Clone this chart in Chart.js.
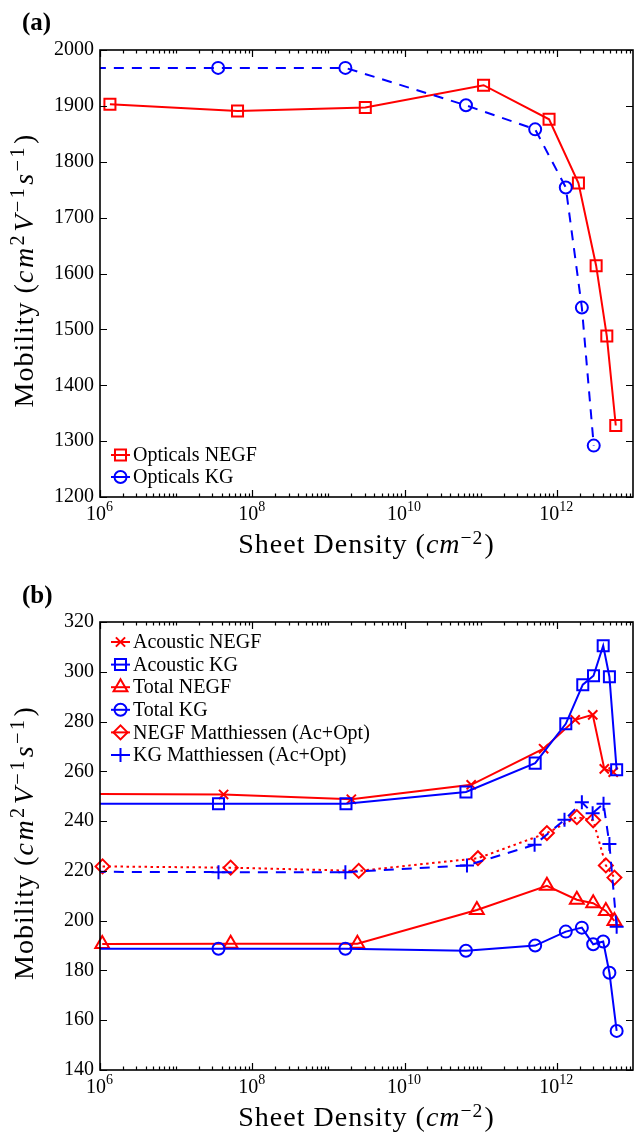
<!DOCTYPE html>
<html>
<head>
<meta charset="utf-8">
<script src="https://cdn.jsdelivr.net/npm/chart.js@4.4.1/dist/chart.umd.min.js"></script>
<style>
html, body { margin: 0; padding: 0; background: #fff; }
#wrap { position: relative; width: 635px; height: 1134px; }
.panel { position: absolute; left: 0; width: 635px; height: 567px; }
</style>
</head>
<body>
<div id="wrap">
  <div class="panel" style="top:0"><canvas id="chartA" width="635" height="567"></canvas></div>
  <div class="panel" style="top:567px"><canvas id="chartB" width="635" height="567"></canvas></div>
</div>
<script>
const FONT = '"Liberation Serif", "DejaVu Serif", serif';
const RED = '#ff0000';
const BLUE = '#0000ff';

// x axis: decades that carry a label (10^n)
const xTickExp = [6, 8, 10, 12];

// (a) optical phonon limited mobility
const optNegfX = [1.35e6, 6.4e7, 3.05e9, 1.09e11, 7.9e11, 1.92e12, 3.28e12, 4.53e12, 5.94e12];
const optNegfY = [1903, 1891, 1897, 1937, 1876, 1762, 1614, 1488, 1328];
const optKgX = [1e5, 3.56e7, 1.67e9, 6.4e10, 5.19e11, 1.31e12, 2.13e12, 3.05e12];
const optKgY = [1968, 1968, 1968, 1901, 1858, 1754, 1539, 1292];

// (b) acoustic / total / Matthiessen
const acNegfX = [1e5, 4.2e7, 2.0e9, 7.5e10, 6.7e11, 1.74e12, 2.96e12, 4.2e12, 5.5e12];
const acNegfY = [251.0, 250.7, 248.8, 254.6, 269.1, 280.7, 282.7, 261.0, 259.7];
const acKgX = [1e5, 3.6e7, 1.7e9, 6.4e10, 5.19e11, 1.31e12, 2.19e12, 3.03e12, 4.06e12, 4.9e12, 6.1e12];
const acKgY = [247.0, 247.0, 247.0, 251.7, 263.3, 279.1, 294.8, 298.4, 310.5, 298.0, 260.6];
const totNegfX = [1.07e6, 5.2e7, 2.4e9, 8.9e10, 7.4e11, 1.83e12, 3.0e12, 4.4e12, 5.7e12];
const totNegfY = [190.6, 190.7, 190.7, 204.3, 214.0, 208.4, 207.0, 203.9, 199.9];
const totKgX = [1e5, 3.6e7, 1.67e9, 6.4e10, 5.19e11, 1.31e12, 2.13e12, 3.0e12, 4.06e12, 4.9e12, 6.1e12];
const totKgY = [188.7, 188.7, 188.7, 187.9, 190.0, 195.6, 197.2, 190.5, 191.6, 179.1, 155.7];
const negfMatX = [1.08e6, 5.2e7, 2.5e9, 9.2e10, 7.4e11, 1.83e12, 3.0e12, 4.4e12, 5.7e12];
const negfMatY = [221.8, 221.3, 220.0, 225.1, 235.2, 241.6, 240.3, 222.2, 217.3];
const kgMatX = [1e5, 3.6e7, 1.67e9, 6.6e10, 5.1e11, 1.26e12, 2.13e12, 2.95e12, 4.1e12, 4.9e12, 6.1e12];
const kgMatY = [219.7, 219.5, 219.5, 222.2, 230.5, 240.5, 247.6, 243.2, 247.0, 230.8, 197.6];

const DASH = [10, 8];
const DOT = [2.5, 3.5];

function pts(xs, ys) {
    return xs.map((x, i) => ({ x: x, y: ys[i] }));
}

function series(label, xs, ys, color, style, radius, dash, order) {
    const ds = {
        label: label,
        data: pts(xs, ys),
        showLine: true,
        tension: 0,
        borderColor: color,
        backgroundColor: 'rgba(0,0,0,0)',
        borderWidth: 2,
        borderDash: dash,
        pointStyle: style,
        pointRadius: radius,
        pointBorderWidth: 2,
        pointBorderColor: color,
        pointBackgroundColor: 'rgba(0,0,0,0)',
        order: order
    };
    // series that start inside the axes keep their edge markers whole
    if (xs[0] >= 1e6) ds.clip = 12;
    return ds;
}

// text with italic and superscript pieces: [text, kind] kind '' | 'i' | 's'
function richFont(kind, size, supScale) {
    if (kind === 's') return (size * supScale) + 'px ' + FONT;
    if (kind === 'i') return 'italic ' + size + 'px ' + FONT;
    return size + 'px ' + FONT;
}

function drawRich(ctx, parts, x, y, size, supScale, supRise, spacing, mathSpacing) {
    const setFor = p => {
        ctx.font = richFont(p[1], size, supScale);
        ctx.letterSpacing = (p[1] === '' ? spacing : mathSpacing) + 'px';
    };
    let total = 0;
    parts.forEach(p => {
        setFor(p);
        total += ctx.measureText(p[0]).width + (p[1] === 's' ? 1 : 0);
    });
    let cx = x - total / 2;
    ctx.textAlign = 'left';
    ctx.textBaseline = 'alphabetic';
    parts.forEach(p => {
        setFor(p);
        const dy = p[1] === 's' ? -size * supRise : 0;
        ctx.fillText(p[0], cx, y + dy);
        cx += ctx.measureText(p[0]).width + (p[1] === 's' ? 1 : 0);
    });
    ctx.letterSpacing = '0px';
}

const yTitle = [['Mobility (', ''], ['cm', 'i'], ['2', 's'], ['V', 'i'], ['\u22121', 's'], ['s', 'i'], ['\u22121', 's'], [')', '']];
const xTitle = [['Sheet Density (', ''], ['cm', 'i'], ['\u22122', 's'], [')', '']];

const framePlugin = {
    id: 'frame',
    afterDatasetsDraw(chart, args, opts) {
        const ctx = chart.ctx;
        const a = chart.chartArea;
        const xs = chart.scales.x;
        const ys = chart.scales.y;
        ctx.save();
        ctx.strokeStyle = '#000';
        ctx.fillStyle = '#000';

        // inward ticks, log minor ticks on x
        ctx.lineWidth = 1.2;
        ctx.beginPath();
        for (let k = 6; k <= 12; k++) {
            for (let m = 1; m <= 9; m++) {
                const v = m * Math.pow(10, k);
                const major = m === 1 && xTickExp.indexOf(k) >= 0;
                const len = major ? 7 : 3.5;
                const px = Math.round(xs.getPixelForValue(v)) + 0.5;
                ctx.moveTo(px, a.bottom); ctx.lineTo(px, a.bottom - len);
                ctx.moveTo(px, a.top); ctx.lineTo(px, a.top + len);
            }
        }
        ys.ticks.forEach(t => {
            const py = Math.round(ys.getPixelForValue(t.value)) + 0.5;
            ctx.moveTo(a.left, py); ctx.lineTo(a.left + 7, py);
            ctx.moveTo(a.right, py); ctx.lineTo(a.right - 7, py);
        });
        ctx.stroke();

        ctx.lineWidth = 1.6;
        ctx.strokeRect(a.left, a.top, a.right - a.left, a.bottom - a.top);

        // x tick labels 10^n
        xTickExp.forEach(e => {
            const px = xs.getPixelForValue(Math.pow(10, e));
            drawRich(ctx, [['10', ''], [String(e), 's']], px, a.bottom + 23, 20, 0.7, 0.45, 0, 0);
        });

        // axis titles
        drawRich(ctx, xTitle, (a.left + a.right) / 2, a.bottom + 56, 28, 0.7, 0.33, 1, 1);
        ctx.save();
        ctx.translate(33, (a.top + a.bottom) / 2 + opts.yTitleShift);
        ctx.rotate(-Math.PI / 2);
        drawRich(ctx, yTitle, 0, 0, 28, 0.72, 0.33, 1, 2.5);
        ctx.restore();

        // panel tag
        ctx.font = 'bold 25px ' + FONT;
        ctx.textAlign = 'left';
        ctx.textBaseline = 'alphabetic';
        ctx.fillText(opts.tag, 22, opts.tagY);

        // legend: short line + hollow marker, then label
        chart.data.datasets.forEach((ds, i) => {
            const y = opts.legendY + i * opts.legendGap;
            ctx.save();
            ctx.strokeStyle = ds.borderColor;
            ctx.fillStyle = 'rgba(0,0,0,0)';
            ctx.lineWidth = 2;
            ctx.setLineDash([]);
            ctx.beginPath();
            ctx.moveTo(111, y); ctx.lineTo(130, y);
            ctx.stroke();
            Chart.helpers.drawPoint(ctx, {
                pointStyle: ds.pointStyle,
                radius: ds.pointRadius,
                borderWidth: 2,
                rotation: 0
            }, 120.5, y);
            ctx.restore();
            ctx.fillStyle = '#000';
            ctx.font = '20px ' + FONT;
            ctx.textAlign = 'left';
            ctx.textBaseline = 'middle';
            ctx.fillText(ds.label, 133, y + 1);
        });
        ctx.restore();
    }
};

function makeChart(id, datasets, yMin, yMax, yStep, topPad, xHeight, frameOpts) {
    return new Chart(document.getElementById(id).getContext('2d'), {
        type: 'scatter',
        data: { datasets: datasets },
        options: {
            responsive: false,
            animation: false,
            events: [],
            layout: { autoPadding: false, padding: { top: topPad, right: 2, left: 0, bottom: 0 } },
            scales: {
                x: {
                    type: 'logarithmic',
                    min: 1e6,
                    max: 1e13,
                    ticks: { display: false },
                    grid: { display: false, drawTicks: false },
                    border: { display: false },
                    afterFit: s => { s.height = xHeight; }
                },
                y: {
                    min: yMin,
                    max: yMax,
                    ticks: {
                        stepSize: yStep,
                        color: '#000',
                        padding: 6,
                        font: { family: FONT, size: 20 },
                        callback: v => String(v)
                    },
                    grid: { display: false, drawTicks: false },
                    border: { display: false },
                    afterFit: s => { s.width = 100; }
                }
            },
            plugins: {
                legend: { display: false },
                tooltip: { enabled: false },
                frame: frameOpts
            }
        },
        plugins: [framePlugin]
    });
}

makeChart('chartA', [
    series('Opticals NEGF', optNegfX, optNegfY, RED, 'rect', 7.8, [], 2),
    series('Opticals KG', optKgX, optKgY, BLUE, 'circle', 6, DASH, 1)
], 1200, 2000, 100, 50, 70, { tag: '(a)', tagY: 30, legendY: 455, legendGap: 22, yTitleShift: -3 });

makeChart('chartB', [
    series('Acoustic NEGF', acNegfX, acNegfY, RED, 'crossRot', 6.5, [], 6),
    series('Acoustic KG', acKgX, acKgY, BLUE, 'rect', 7.8, [], 5),
    series('Total NEGF', totNegfX, totNegfY, RED, 'triangle', 8, [], 4),
    series('Total KG', totKgX, totKgY, BLUE, 'circle', 6, [], 3),
    series('NEGF Matthiessen (Ac+Opt)', negfMatX, negfMatY, RED, 'rectRot', 7, DOT, 2),
    series('KG Matthiessen (Ac+Opt)', kgMatX, kgMatY, BLUE, 'cross', 7, DASH, 1)
], 140, 320, 20, 55, 64, { tag: '(b)', tagY: 36, legendY: 75, legendGap: 22.6, yTitleShift: -3 });
</script>
</body>
</html>
